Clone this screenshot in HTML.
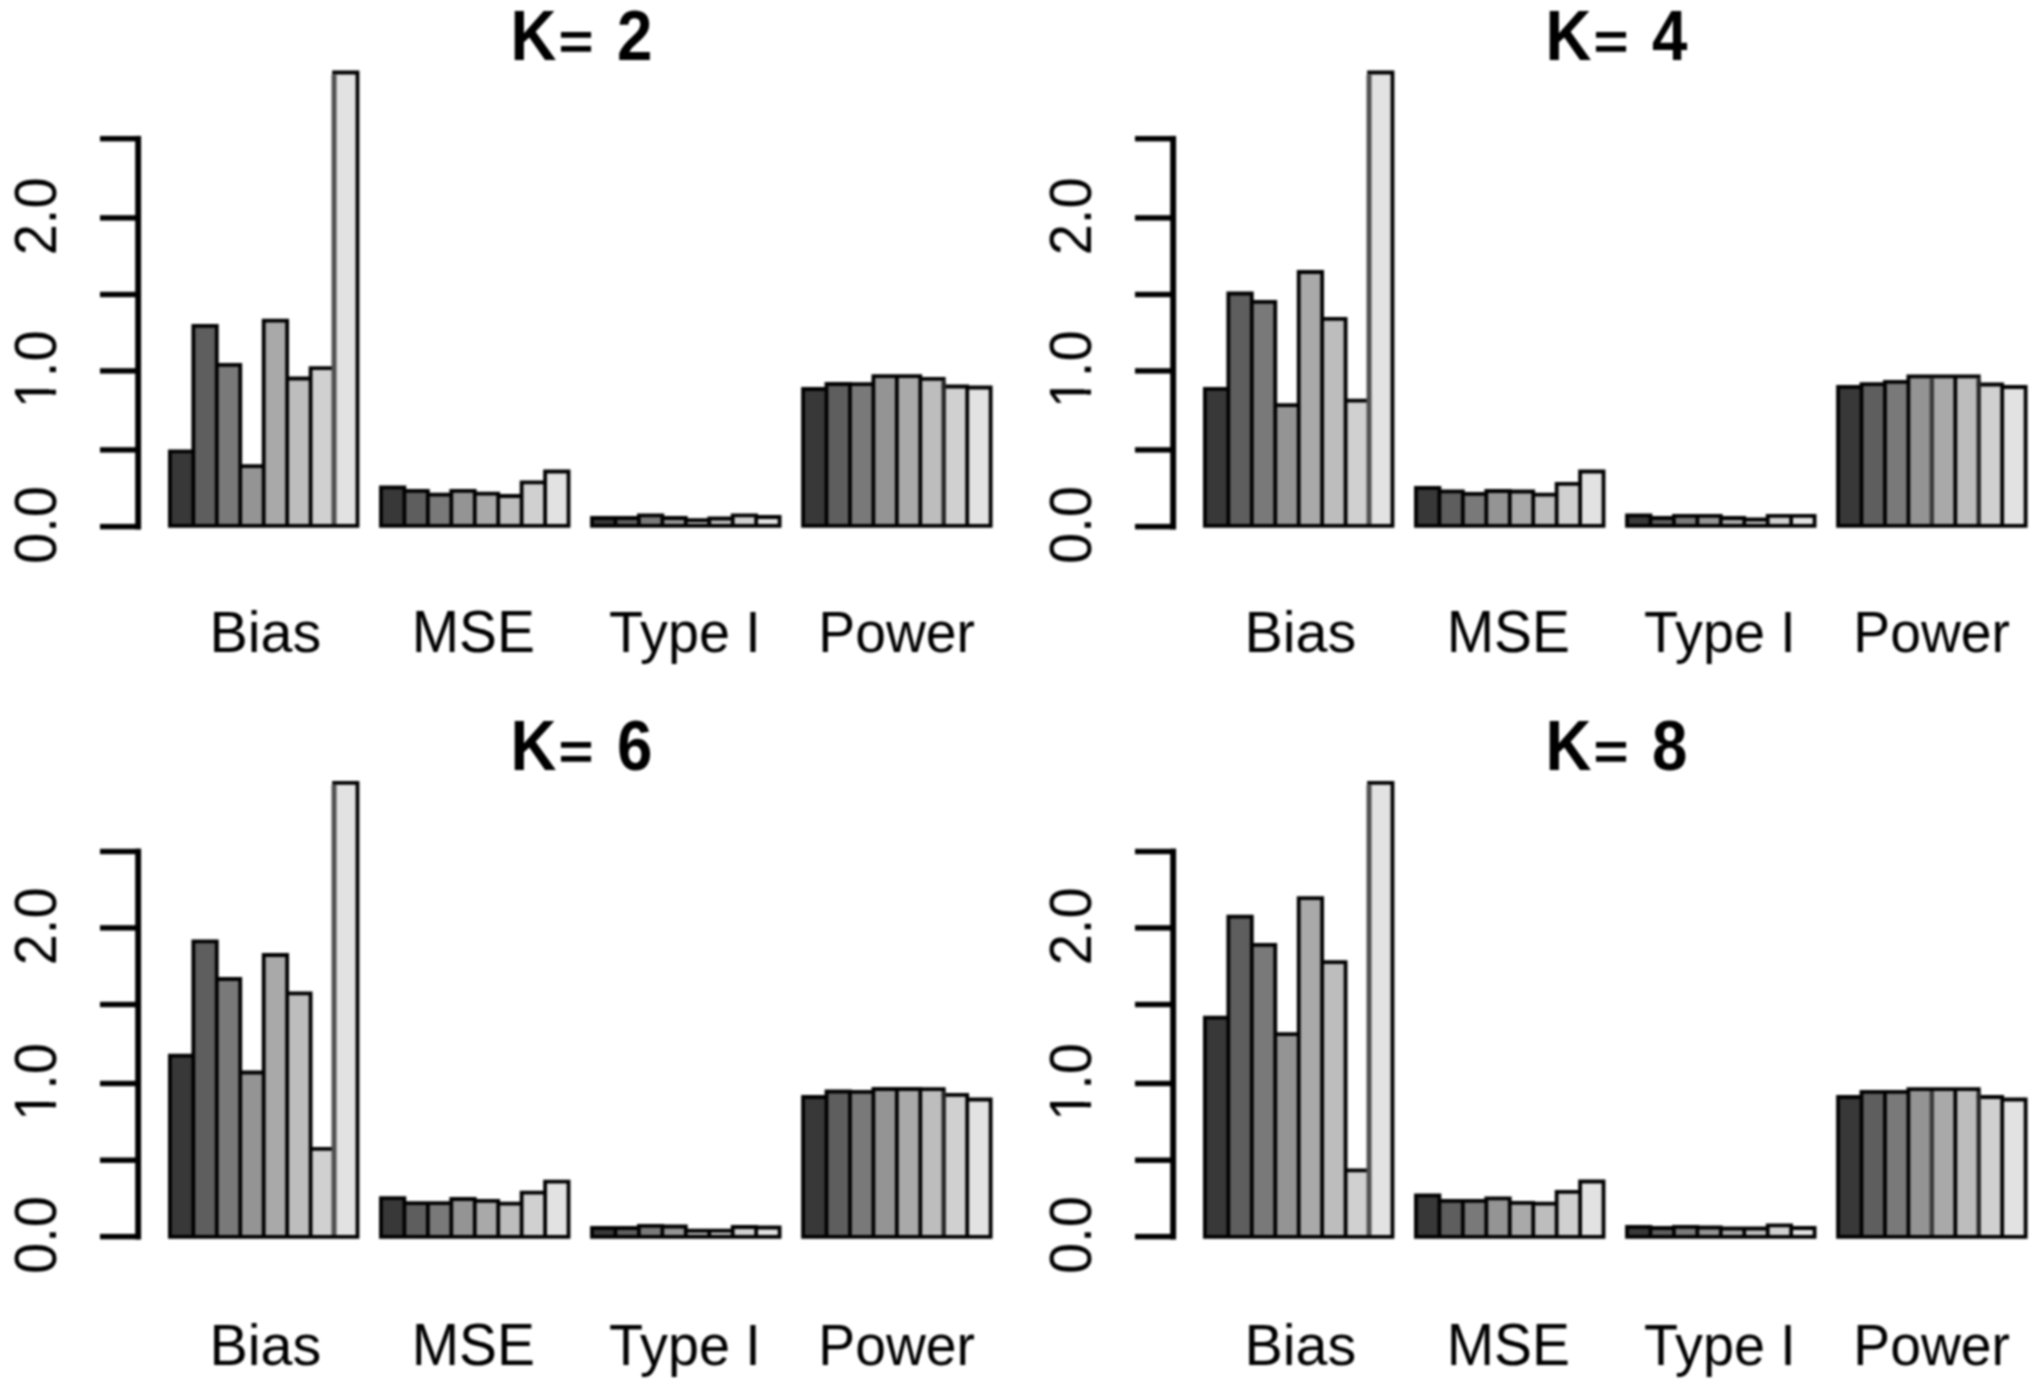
<!DOCTYPE html>
<html><head><meta charset="utf-8"><title>K barplots</title>
<style>
html,body{margin:0;padding:0;background:#fff;}
body{width:2040px;height:1386px;overflow:hidden;}
svg{display:block;filter:blur(0.8px);}
.yl{font-family:"Liberation Sans",Arial,sans-serif;font-size:56px;text-anchor:middle;fill:#000;}
.gl{font-family:"Liberation Sans",Arial,sans-serif;font-size:56px;text-anchor:middle;fill:#000;}
.tt{font-family:"Liberation Sans",Arial,sans-serif;font-size:67px;font-weight:bold;text-anchor:middle;fill:#000;}
.te{font-size:60px;}
</style></head>
<body>
<svg width="2040" height="1386" viewBox="0 0 2040 1386">
<rect width="2040" height="1386" fill="#fff"/>
<rect x="169.9" y="451.3" width="23.45" height="74.6" fill="#383838"/>
<rect x="193.35" y="325.9" width="23.45" height="200" fill="#5e5e5e"/>
<rect x="216.8" y="364.9" width="23.45" height="161" fill="#797979"/>
<rect x="240.25" y="466.2" width="23.45" height="59.7" fill="#949494"/>
<rect x="263.7" y="320.7" width="23.45" height="205.2" fill="#a9a9a9"/>
<rect x="287.15" y="378.5" width="23.45" height="147.4" fill="#bdbdbd"/>
<rect x="310.6" y="368.1" width="23.45" height="157.8" fill="#d0d0d0"/>
<rect x="334.05" y="72.5" width="23.45" height="453.4" fill="#e2e2e2"/>
<path d="M168 451.3H195.25M191.45 325.9H218.7M214.9 364.9H242.15M238.35 466.2H265.6M261.8 320.7H289.05M285.25 378.5H312.5M308.7 368.1H335.95M332.15 72.5H359.4M168 525.9H359.4M169.9 451.3V525.9M357.5 72.5V525.9M193.35 325.9V525.9M216.8 325.9V525.9M240.25 364.9V525.9M263.7 320.7V525.9M287.15 320.7V525.9M310.6 368.1V525.9" stroke="#000" stroke-width="3.8" fill="none"/>
<path d="M334.05 74.4V524" stroke="#505050" stroke-width="5"/>
<rect x="380.95" y="487.4" width="23.45" height="38.5" fill="#383838"/>
<rect x="404.4" y="490.8" width="23.45" height="35.1" fill="#5e5e5e"/>
<rect x="427.85" y="494.6" width="23.45" height="31.3" fill="#797979"/>
<rect x="451.3" y="490.8" width="23.45" height="35.1" fill="#949494"/>
<rect x="474.75" y="493.6" width="23.45" height="32.3" fill="#a9a9a9"/>
<rect x="498.2" y="496" width="23.45" height="29.9" fill="#bdbdbd"/>
<rect x="521.65" y="482.3" width="23.45" height="43.6" fill="#d0d0d0"/>
<rect x="545.1" y="471.5" width="23.45" height="54.4" fill="#e2e2e2"/>
<path d="M379.05 487.4H406.3M402.5 490.8H429.75M425.95 494.6H453.2M449.4 490.8H476.65M472.85 493.6H500.1M496.3 496H523.55M519.75 482.3H547M543.2 471.5H570.45M379.05 525.9H570.45M380.95 487.4V525.9M568.55 471.5V525.9M404.4 487.4V525.9M427.85 490.8V525.9M451.3 490.8V525.9M474.75 490.8V525.9M498.2 493.6V525.9M521.65 482.3V525.9M545.1 471.5V525.9" stroke="#000" stroke-width="3.8" fill="none"/>
<rect x="592" y="518" width="23.45" height="7.9" fill="#383838"/>
<rect x="615.45" y="518" width="23.45" height="7.9" fill="#5e5e5e"/>
<rect x="638.9" y="515.4" width="23.45" height="10.5" fill="#797979"/>
<rect x="662.35" y="518" width="23.45" height="7.9" fill="#949494"/>
<rect x="685.8" y="520.1" width="23.45" height="5.8" fill="#a9a9a9"/>
<rect x="709.25" y="518.5" width="23.45" height="7.4" fill="#bdbdbd"/>
<rect x="732.7" y="515.4" width="23.45" height="10.5" fill="#d0d0d0"/>
<rect x="756.15" y="517" width="23.45" height="8.9" fill="#e2e2e2"/>
<path d="M590.1 518H617.35M613.55 518H640.8M637 515.4H664.25M660.45 518H687.7M683.9 520.1H711.15M707.35 518.5H734.6M730.8 515.4H758.05M754.25 517H781.5M590.1 525.9H781.5M592 518V525.9M779.6 517V525.9M615.45 518V525.9M638.9 515.4V525.9M662.35 515.4V525.9M685.8 518V525.9M709.25 518.5V525.9M732.7 515.4V525.9M756.15 515.4V525.9" stroke="#000" stroke-width="3.8" fill="none"/>
<rect x="803.05" y="389" width="23.45" height="136.9" fill="#383838"/>
<rect x="826.5" y="384" width="23.45" height="141.9" fill="#5e5e5e"/>
<rect x="849.95" y="384.2" width="23.45" height="141.7" fill="#797979"/>
<rect x="873.4" y="376.1" width="23.45" height="149.8" fill="#949494"/>
<rect x="896.85" y="376.1" width="23.45" height="149.8" fill="#a9a9a9"/>
<rect x="920.3" y="378.8" width="23.45" height="147.1" fill="#bdbdbd"/>
<rect x="943.75" y="386.5" width="23.45" height="139.4" fill="#d0d0d0"/>
<rect x="967.2" y="387.5" width="23.45" height="138.4" fill="#e2e2e2"/>
<path d="M801.15 389H828.4M824.6 384H851.85M848.05 384.2H875.3M871.5 376.1H898.75M894.95 376.1H922.2M918.4 378.8H945.65M941.85 386.5H969.1M965.3 387.5H992.55M801.15 525.9H992.55M803.05 389V525.9M990.65 387.5V525.9M826.5 384V525.9M849.95 384V525.9M873.4 376.1V525.9M896.85 376.1V525.9M920.3 376.1V525.9M967.2 386.5V525.9" stroke="#000" stroke-width="3.8" fill="none"/>
<path d="M943.75 380.7V524" stroke="#262626" stroke-width="4.4"/>
<rect x="135.2" y="135.9" width="5.9" height="393.5" fill="#000"/>
<rect x="100" y="523.9" width="41" height="5.4" fill="#000"/>
<rect x="100" y="447.2" width="41" height="5.4" fill="#000"/>
<rect x="100" y="368.2" width="41" height="5.4" fill="#000"/>
<rect x="100" y="291.8" width="41" height="5.4" fill="#000"/>
<rect x="100" y="215.2" width="41" height="5.4" fill="#000"/>
<rect x="100" y="136" width="41" height="5.4" fill="#000"/>
<text class="yl" transform="translate(56 525.1) rotate(-90) scale(1 1.07)">0.0</text>
<text class="yl" transform="translate(56 369.4) rotate(-90) scale(1 1.07)">1.0</text>
<rect x="49.3" y="378.2" width="8" height="11.5" fill="#fff"/>
<rect x="49.3" y="394.6" width="8" height="10" fill="#fff"/>
<text class="yl" transform="translate(56 216.4) rotate(-90) scale(1 1.07)">2.0</text>
<text class="gl" transform="translate(265.3 652) scale(1.027 1.035)">Bias</text>
<text class="gl" transform="translate(473.35 652) scale(1.016 1.05)">MSE</text>
<text class="gl" transform="translate(684.95 652) scale(0.995 1.035)">Type I</text>
<text class="gl" transform="translate(896.65 652) scale(0.987 1.035)">Power</text>
<text class="tt" transform="translate(533.4 59.6) scale(0.95 1.055)">K</text>
<text class="tt te" transform="translate(576 59.6) scale(1.0 0.85)">=</text>
<text class="tt" transform="translate(634.8 59.6) scale(0.95 1.05)">2</text>
<rect x="1204.9" y="388.9" width="23.45" height="137" fill="#383838"/>
<rect x="1228.35" y="293.5" width="23.45" height="232.4" fill="#5e5e5e"/>
<rect x="1251.8" y="301.9" width="23.45" height="224" fill="#797979"/>
<rect x="1275.25" y="405.1" width="23.45" height="120.8" fill="#949494"/>
<rect x="1298.7" y="272" width="23.45" height="253.9" fill="#a9a9a9"/>
<rect x="1322.15" y="318.8" width="23.45" height="207.1" fill="#bdbdbd"/>
<rect x="1345.6" y="400.6" width="23.45" height="125.3" fill="#d0d0d0"/>
<rect x="1369.05" y="72.5" width="23.45" height="453.4" fill="#e2e2e2"/>
<path d="M1203 388.9H1230.25M1226.45 293.5H1253.7M1249.9 301.9H1277.15M1273.35 405.1H1300.6M1296.8 272H1324.05M1320.25 318.8H1347.5M1343.7 400.6H1370.95M1367.15 72.5H1394.4M1203 525.9H1394.4M1204.9 388.9V525.9M1392.5 72.5V525.9M1228.35 293.5V525.9M1251.8 293.5V525.9M1275.25 301.9V525.9M1298.7 272V525.9M1322.15 272V525.9M1345.6 318.8V525.9" stroke="#000" stroke-width="3.8" fill="none"/>
<path d="M1369.05 74.4V524" stroke="#505050" stroke-width="5"/>
<rect x="1415.95" y="487.9" width="23.45" height="38" fill="#383838"/>
<rect x="1439.4" y="491.3" width="23.45" height="34.6" fill="#5e5e5e"/>
<rect x="1462.85" y="493.9" width="23.45" height="32" fill="#797979"/>
<rect x="1486.3" y="491" width="23.45" height="34.9" fill="#949494"/>
<rect x="1509.75" y="491.5" width="23.45" height="34.4" fill="#a9a9a9"/>
<rect x="1533.2" y="494.6" width="23.45" height="31.3" fill="#bdbdbd"/>
<rect x="1556.65" y="483.8" width="23.45" height="42.1" fill="#d0d0d0"/>
<rect x="1580.1" y="471.5" width="23.45" height="54.4" fill="#e2e2e2"/>
<path d="M1414.05 487.9H1441.3M1437.5 491.3H1464.75M1460.95 493.9H1488.2M1484.4 491H1511.65M1507.85 491.5H1535.1M1531.3 494.6H1558.55M1554.75 483.8H1582M1578.2 471.5H1605.45M1414.05 525.9H1605.45M1415.95 487.9V525.9M1603.55 471.5V525.9M1439.4 487.9V525.9M1462.85 491.3V525.9M1486.3 491V525.9M1509.75 491V525.9M1533.2 491.5V525.9M1556.65 483.8V525.9M1580.1 471.5V525.9" stroke="#000" stroke-width="3.8" fill="none"/>
<rect x="1627" y="515.4" width="23.45" height="10.5" fill="#383838"/>
<rect x="1650.45" y="518" width="23.45" height="7.9" fill="#5e5e5e"/>
<rect x="1673.9" y="515.9" width="23.45" height="10" fill="#797979"/>
<rect x="1697.35" y="515.9" width="23.45" height="10" fill="#949494"/>
<rect x="1720.8" y="518" width="23.45" height="7.9" fill="#a9a9a9"/>
<rect x="1744.25" y="519.5" width="23.45" height="6.4" fill="#bdbdbd"/>
<rect x="1767.7" y="515.9" width="23.45" height="10" fill="#d0d0d0"/>
<rect x="1791.15" y="515.9" width="23.45" height="10" fill="#e2e2e2"/>
<path d="M1625.1 515.4H1652.35M1648.55 518H1675.8M1672 515.9H1699.25M1695.45 515.9H1722.7M1718.9 518H1746.15M1742.35 519.5H1769.6M1765.8 515.9H1793.05M1789.25 515.9H1816.5M1625.1 525.9H1816.5M1627 515.4V525.9M1814.6 515.9V525.9M1650.45 515.4V525.9M1673.9 515.9V525.9M1697.35 515.9V525.9M1720.8 515.9V525.9M1744.25 518V525.9M1767.7 515.9V525.9M1791.15 515.9V525.9" stroke="#000" stroke-width="3.8" fill="none"/>
<rect x="1838.05" y="386.8" width="23.45" height="139.1" fill="#383838"/>
<rect x="1861.5" y="384.2" width="23.45" height="141.7" fill="#5e5e5e"/>
<rect x="1884.95" y="381.8" width="23.45" height="144.1" fill="#797979"/>
<rect x="1908.4" y="376.4" width="23.45" height="149.5" fill="#949494"/>
<rect x="1931.85" y="376.4" width="23.45" height="149.5" fill="#a9a9a9"/>
<rect x="1955.3" y="376.4" width="23.45" height="149.5" fill="#bdbdbd"/>
<rect x="1978.75" y="384.5" width="23.45" height="141.4" fill="#d0d0d0"/>
<rect x="2002.2" y="387" width="23.45" height="138.9" fill="#e2e2e2"/>
<path d="M1836.15 386.8H1863.4M1859.6 384.2H1886.85M1883.05 381.8H1910.3M1906.5 376.4H1933.75M1929.95 376.4H1957.2M1953.4 376.4H1980.65M1976.85 384.5H2004.1M2000.3 387H2027.55M1836.15 525.9H2027.55M1838.05 386.8V525.9M2025.65 387V525.9M1861.5 384.2V525.9M1884.95 381.8V525.9M1908.4 376.4V525.9M1955.3 376.4V525.9M2002.2 384.5V525.9" stroke="#000" stroke-width="3.8" fill="none"/>
<path d="M1931.85 378.3V524" stroke="#3a3a3a" stroke-width="4.4"/>
<path d="M1978.75 378.3V524" stroke="#262626" stroke-width="4.4"/>
<rect x="1170.2" y="135.9" width="5.9" height="393.5" fill="#000"/>
<rect x="1135" y="523.9" width="41" height="5.4" fill="#000"/>
<rect x="1135" y="447.2" width="41" height="5.4" fill="#000"/>
<rect x="1135" y="368.2" width="41" height="5.4" fill="#000"/>
<rect x="1135" y="291.8" width="41" height="5.4" fill="#000"/>
<rect x="1135" y="215.2" width="41" height="5.4" fill="#000"/>
<rect x="1135" y="136" width="41" height="5.4" fill="#000"/>
<text class="yl" transform="translate(1091 525.1) rotate(-90) scale(1 1.07)">0.0</text>
<text class="yl" transform="translate(1091 369.4) rotate(-90) scale(1 1.07)">1.0</text>
<rect x="1084.3" y="378.2" width="8" height="11.5" fill="#fff"/>
<rect x="1084.3" y="394.6" width="8" height="10" fill="#fff"/>
<text class="yl" transform="translate(1091 216.4) rotate(-90) scale(1 1.07)">2.0</text>
<text class="gl" transform="translate(1300.3 652) scale(1.027 1.035)">Bias</text>
<text class="gl" transform="translate(1508.35 652) scale(1.016 1.05)">MSE</text>
<text class="gl" transform="translate(1719.95 652) scale(0.995 1.035)">Type I</text>
<text class="gl" transform="translate(1931.65 652) scale(0.987 1.035)">Power</text>
<text class="tt" transform="translate(1568.4 59.6) scale(0.95 1.055)">K</text>
<text class="tt te" transform="translate(1611 59.6) scale(1.0 0.85)">=</text>
<text class="tt" transform="translate(1669.8 59.6) scale(0.95 1.05)">4</text>
<rect x="169.9" y="1055.7" width="23.45" height="181.1" fill="#383838"/>
<rect x="193.35" y="941.4" width="23.45" height="295.4" fill="#5e5e5e"/>
<rect x="216.8" y="979" width="23.45" height="257.8" fill="#797979"/>
<rect x="240.25" y="1072.5" width="23.45" height="164.3" fill="#949494"/>
<rect x="263.7" y="955" width="23.45" height="281.8" fill="#a9a9a9"/>
<rect x="287.15" y="993.3" width="23.45" height="243.5" fill="#bdbdbd"/>
<rect x="310.6" y="1148.9" width="23.45" height="87.9" fill="#d0d0d0"/>
<rect x="334.05" y="782.8" width="23.45" height="454" fill="#e2e2e2"/>
<path d="M168 1055.7H195.25M191.45 941.4H218.7M214.9 979H242.15M238.35 1072.5H265.6M261.8 955H289.05M285.25 993.3H312.5M308.7 1148.9H335.95M332.15 782.8H359.4M168 1236.8H359.4M169.9 1055.7V1236.8M357.5 782.8V1236.8M193.35 941.4V1236.8M216.8 941.4V1236.8M240.25 979V1236.8M263.7 955V1236.8M287.15 955V1236.8M310.6 993.3V1236.8" stroke="#000" stroke-width="3.8" fill="none"/>
<path d="M334.05 784.7V1234.9" stroke="#505050" stroke-width="5"/>
<rect x="380.95" y="1198.1" width="23.45" height="38.7" fill="#383838"/>
<rect x="404.4" y="1203.1" width="23.45" height="33.7" fill="#5e5e5e"/>
<rect x="427.85" y="1203.1" width="23.45" height="33.7" fill="#797979"/>
<rect x="451.3" y="1199" width="23.45" height="37.8" fill="#949494"/>
<rect x="474.75" y="1200.8" width="23.45" height="36" fill="#a9a9a9"/>
<rect x="498.2" y="1203.6" width="23.45" height="33.2" fill="#bdbdbd"/>
<rect x="521.65" y="1192.6" width="23.45" height="44.2" fill="#d0d0d0"/>
<rect x="545.1" y="1181.7" width="23.45" height="55.1" fill="#e2e2e2"/>
<path d="M379.05 1198.1H406.3M402.5 1203.1H429.75M425.95 1203.1H453.2M449.4 1199H476.65M472.85 1200.8H500.1M496.3 1203.6H523.55M519.75 1192.6H547M543.2 1181.7H570.45M379.05 1236.8H570.45M380.95 1198.1V1236.8M568.55 1181.7V1236.8M404.4 1198.1V1236.8M427.85 1203.1V1236.8M451.3 1199V1236.8M474.75 1199V1236.8M498.2 1200.8V1236.8M521.65 1192.6V1236.8M545.1 1181.7V1236.8" stroke="#000" stroke-width="3.8" fill="none"/>
<rect x="592" y="1228" width="23.45" height="8.8" fill="#383838"/>
<rect x="615.45" y="1228" width="23.45" height="8.8" fill="#5e5e5e"/>
<rect x="638.9" y="1225.9" width="23.45" height="10.9" fill="#797979"/>
<rect x="662.35" y="1226.5" width="23.45" height="10.3" fill="#949494"/>
<rect x="685.8" y="1230.6" width="23.45" height="6.2" fill="#a9a9a9"/>
<rect x="709.25" y="1230.6" width="23.45" height="6.2" fill="#bdbdbd"/>
<rect x="732.7" y="1227" width="23.45" height="9.8" fill="#d0d0d0"/>
<rect x="756.15" y="1227.5" width="23.45" height="9.3" fill="#e2e2e2"/>
<path d="M590.1 1228H617.35M613.55 1228H640.8M637 1225.9H664.25M660.45 1226.5H687.7M683.9 1230.6H711.15M707.35 1230.6H734.6M730.8 1227H758.05M754.25 1227.5H781.5M590.1 1236.8H781.5M592 1228V1236.8M779.6 1227.5V1236.8M615.45 1228V1236.8M638.9 1225.9V1236.8M662.35 1225.9V1236.8M685.8 1226.5V1236.8M709.25 1230.6V1236.8M732.7 1227V1236.8M756.15 1227V1236.8" stroke="#000" stroke-width="3.8" fill="none"/>
<rect x="803.05" y="1097" width="23.45" height="139.8" fill="#383838"/>
<rect x="826.5" y="1091.5" width="23.45" height="145.3" fill="#5e5e5e"/>
<rect x="849.95" y="1091.8" width="23.45" height="145" fill="#797979"/>
<rect x="873.4" y="1089" width="23.45" height="147.8" fill="#949494"/>
<rect x="896.85" y="1089" width="23.45" height="147.8" fill="#a9a9a9"/>
<rect x="920.3" y="1089.2" width="23.45" height="147.6" fill="#bdbdbd"/>
<rect x="943.75" y="1094.8" width="23.45" height="142" fill="#d0d0d0"/>
<rect x="967.2" y="1099.5" width="23.45" height="137.3" fill="#e2e2e2"/>
<path d="M801.15 1097H828.4M824.6 1091.5H851.85M848.05 1091.8H875.3M871.5 1089H898.75M894.95 1089H922.2M918.4 1089.2H945.65M941.85 1094.8H969.1M965.3 1099.5H992.55M801.15 1236.8H992.55M803.05 1097V1236.8M990.65 1099.5V1236.8M826.5 1091.5V1236.8M849.95 1091.5V1236.8M873.4 1089V1236.8M896.85 1089V1236.8M920.3 1089V1236.8M967.2 1094.8V1236.8" stroke="#000" stroke-width="3.8" fill="none"/>
<path d="M943.75 1091.1V1234.9" stroke="#262626" stroke-width="4.4"/>
<rect x="135.2" y="848.7" width="5.9" height="390.7" fill="#000"/>
<rect x="100" y="1233.9" width="41" height="5.4" fill="#000"/>
<rect x="100" y="1157.5" width="41" height="5.4" fill="#000"/>
<rect x="100" y="1080.8" width="41" height="5.4" fill="#000"/>
<rect x="100" y="1001.8" width="41" height="5.4" fill="#000"/>
<rect x="100" y="925.2" width="41" height="5.4" fill="#000"/>
<rect x="100" y="848.8" width="41" height="5.4" fill="#000"/>
<text class="yl" transform="translate(56 1235.1) rotate(-90) scale(1 1.07)">0.0</text>
<text class="yl" transform="translate(56 1082) rotate(-90) scale(1 1.07)">1.0</text>
<rect x="49.3" y="1090.8" width="8" height="11.5" fill="#fff"/>
<rect x="49.3" y="1107.2" width="8" height="10" fill="#fff"/>
<text class="yl" transform="translate(56 926.4) rotate(-90) scale(1 1.07)">2.0</text>
<text class="gl" transform="translate(265.3 1364.8) scale(1.027 1.035)">Bias</text>
<text class="gl" transform="translate(473.35 1364.8) scale(1.016 1.05)">MSE</text>
<text class="gl" transform="translate(684.95 1364.8) scale(0.995 1.035)">Type I</text>
<text class="gl" transform="translate(896.65 1364.8) scale(0.987 1.035)">Power</text>
<text class="tt" transform="translate(533.4 769.6) scale(0.95 1.055)">K</text>
<text class="tt te" transform="translate(576 769.6) scale(1.0 0.85)">=</text>
<text class="tt" transform="translate(634.8 769.6) scale(0.95 1.05)">6</text>
<rect x="1204.9" y="1017.6" width="23.45" height="219.2" fill="#383838"/>
<rect x="1228.35" y="916.7" width="23.45" height="320.1" fill="#5e5e5e"/>
<rect x="1251.8" y="944.9" width="23.45" height="291.9" fill="#797979"/>
<rect x="1275.25" y="1034.1" width="23.45" height="202.7" fill="#949494"/>
<rect x="1298.7" y="898.1" width="23.45" height="338.7" fill="#a9a9a9"/>
<rect x="1322.15" y="962.2" width="23.45" height="274.6" fill="#bdbdbd"/>
<rect x="1345.6" y="1170.4" width="23.45" height="66.4" fill="#d0d0d0"/>
<rect x="1369.05" y="782.8" width="23.45" height="454" fill="#e2e2e2"/>
<path d="M1203 1017.6H1230.25M1226.45 916.7H1253.7M1249.9 944.9H1277.15M1273.35 1034.1H1300.6M1296.8 898.1H1324.05M1320.25 962.2H1347.5M1343.7 1170.4H1370.95M1367.15 782.8H1394.4M1203 1236.8H1394.4M1204.9 1017.6V1236.8M1392.5 782.8V1236.8M1228.35 916.7V1236.8M1251.8 916.7V1236.8M1275.25 944.9V1236.8M1298.7 898.1V1236.8M1322.15 898.1V1236.8M1345.6 962.2V1236.8" stroke="#000" stroke-width="3.8" fill="none"/>
<path d="M1369.05 784.7V1234.9" stroke="#505050" stroke-width="5"/>
<rect x="1415.95" y="1195.4" width="23.45" height="41.4" fill="#383838"/>
<rect x="1439.4" y="1200.8" width="23.45" height="36" fill="#5e5e5e"/>
<rect x="1462.85" y="1200.8" width="23.45" height="36" fill="#797979"/>
<rect x="1486.3" y="1198.4" width="23.45" height="38.4" fill="#949494"/>
<rect x="1509.75" y="1202.9" width="23.45" height="33.9" fill="#a9a9a9"/>
<rect x="1533.2" y="1203.6" width="23.45" height="33.2" fill="#bdbdbd"/>
<rect x="1556.65" y="1191.8" width="23.45" height="45" fill="#d0d0d0"/>
<rect x="1580.1" y="1181.5" width="23.45" height="55.3" fill="#e2e2e2"/>
<path d="M1414.05 1195.4H1441.3M1437.5 1200.8H1464.75M1460.95 1200.8H1488.2M1484.4 1198.4H1511.65M1507.85 1202.9H1535.1M1531.3 1203.6H1558.55M1554.75 1191.8H1582M1578.2 1181.5H1605.45M1414.05 1236.8H1605.45M1415.95 1195.4V1236.8M1603.55 1181.5V1236.8M1439.4 1195.4V1236.8M1462.85 1200.8V1236.8M1486.3 1198.4V1236.8M1509.75 1198.4V1236.8M1533.2 1202.9V1236.8M1556.65 1191.8V1236.8M1580.1 1181.5V1236.8" stroke="#000" stroke-width="3.8" fill="none"/>
<rect x="1627" y="1226.9" width="23.45" height="9.9" fill="#383838"/>
<rect x="1650.45" y="1228" width="23.45" height="8.8" fill="#5e5e5e"/>
<rect x="1673.9" y="1226.9" width="23.45" height="9.9" fill="#797979"/>
<rect x="1697.35" y="1227.5" width="23.45" height="9.3" fill="#949494"/>
<rect x="1720.8" y="1228.5" width="23.45" height="8.3" fill="#a9a9a9"/>
<rect x="1744.25" y="1228.5" width="23.45" height="8.3" fill="#bdbdbd"/>
<rect x="1767.7" y="1225.4" width="23.45" height="11.4" fill="#d0d0d0"/>
<rect x="1791.15" y="1228" width="23.45" height="8.8" fill="#e2e2e2"/>
<path d="M1625.1 1226.9H1652.35M1648.55 1228H1675.8M1672 1226.9H1699.25M1695.45 1227.5H1722.7M1718.9 1228.5H1746.15M1742.35 1228.5H1769.6M1765.8 1225.4H1793.05M1789.25 1228H1816.5M1625.1 1236.8H1816.5M1627 1226.9V1236.8M1814.6 1228V1236.8M1650.45 1226.9V1236.8M1673.9 1226.9V1236.8M1697.35 1226.9V1236.8M1720.8 1227.5V1236.8M1744.25 1228.5V1236.8M1767.7 1225.4V1236.8M1791.15 1225.4V1236.8" stroke="#000" stroke-width="3.8" fill="none"/>
<rect x="1838.05" y="1097" width="23.45" height="139.8" fill="#383838"/>
<rect x="1861.5" y="1091.8" width="23.45" height="145" fill="#5e5e5e"/>
<rect x="1884.95" y="1091.8" width="23.45" height="145" fill="#797979"/>
<rect x="1908.4" y="1089.2" width="23.45" height="147.6" fill="#949494"/>
<rect x="1931.85" y="1089.2" width="23.45" height="147.6" fill="#a9a9a9"/>
<rect x="1955.3" y="1089.2" width="23.45" height="147.6" fill="#bdbdbd"/>
<rect x="1978.75" y="1097" width="23.45" height="139.8" fill="#d0d0d0"/>
<rect x="2002.2" y="1099.5" width="23.45" height="137.3" fill="#e2e2e2"/>
<path d="M1836.15 1097H1863.4M1859.6 1091.8H1886.85M1883.05 1091.8H1910.3M1906.5 1089.2H1933.75M1929.95 1089.2H1957.2M1953.4 1089.2H1980.65M1976.85 1097H2004.1M2000.3 1099.5H2027.55M1836.15 1236.8H2027.55M1838.05 1097V1236.8M2025.65 1099.5V1236.8M1861.5 1091.8V1236.8M1884.95 1091.8V1236.8M1908.4 1089.2V1236.8M1955.3 1089.2V1236.8M2002.2 1097V1236.8" stroke="#000" stroke-width="3.8" fill="none"/>
<path d="M1931.85 1091.1V1234.9" stroke="#3a3a3a" stroke-width="4.4"/>
<path d="M1978.75 1091.1V1234.9" stroke="#262626" stroke-width="4.4"/>
<rect x="1170.2" y="848.7" width="5.9" height="390.7" fill="#000"/>
<rect x="1135" y="1233.9" width="41" height="5.4" fill="#000"/>
<rect x="1135" y="1157.5" width="41" height="5.4" fill="#000"/>
<rect x="1135" y="1080.8" width="41" height="5.4" fill="#000"/>
<rect x="1135" y="1001.8" width="41" height="5.4" fill="#000"/>
<rect x="1135" y="925.2" width="41" height="5.4" fill="#000"/>
<rect x="1135" y="848.8" width="41" height="5.4" fill="#000"/>
<text class="yl" transform="translate(1091 1235.1) rotate(-90) scale(1 1.07)">0.0</text>
<text class="yl" transform="translate(1091 1082) rotate(-90) scale(1 1.07)">1.0</text>
<rect x="1084.3" y="1090.8" width="8" height="11.5" fill="#fff"/>
<rect x="1084.3" y="1107.2" width="8" height="10" fill="#fff"/>
<text class="yl" transform="translate(1091 926.4) rotate(-90) scale(1 1.07)">2.0</text>
<text class="gl" transform="translate(1300.3 1364.8) scale(1.027 1.035)">Bias</text>
<text class="gl" transform="translate(1508.35 1364.8) scale(1.016 1.05)">MSE</text>
<text class="gl" transform="translate(1719.95 1364.8) scale(0.995 1.035)">Type I</text>
<text class="gl" transform="translate(1931.65 1364.8) scale(0.987 1.035)">Power</text>
<text class="tt" transform="translate(1568.4 769.6) scale(0.95 1.055)">K</text>
<text class="tt te" transform="translate(1611 769.6) scale(1.0 0.85)">=</text>
<text class="tt" transform="translate(1669.8 769.6) scale(0.95 1.05)">8</text>
</svg>
</body></html>
